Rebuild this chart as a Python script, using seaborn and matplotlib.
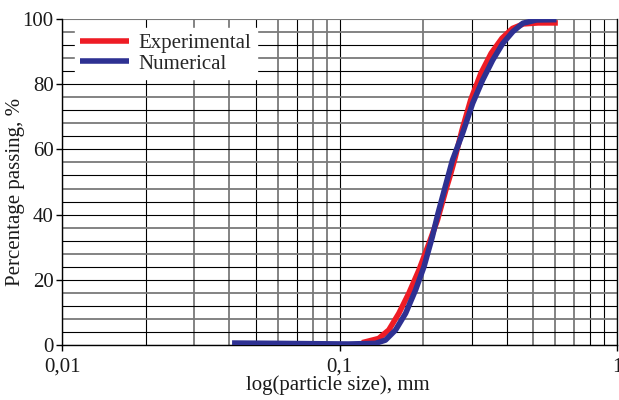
import numpy as np
import pandas as pd
import matplotlib
matplotlib.use("Agg")
import matplotlib.pyplot as plt
import seaborn as sns
from matplotlib.ticker import FixedLocator, NullFormatter

# Data
exp_size = [0.1205, 0.1384, 0.1505, 0.1636, 0.1778, 0.1933, 0.2101, 0.2253, 0.2415,
            0.2505, 0.2595, 0.2765, 0.2970, 0.3230, 0.3520, 0.3850, 0.4200, 0.4600,
            0.5200, 0.6120]
exp_pass = [0.7, 2.0, 4.6, 9.7, 15.9, 23.0, 31.2, 38.3, 47.5,
            52.0, 56.7, 66.0, 75.2, 83.3, 89.5, 94.1, 97.1, 98.5,
            98.8, 98.8]
num_size = [0.041, 0.06, 0.08, 0.1078, 0.1347, 0.1464, 0.1592, 0.173, 0.188, 0.2015,
            0.216, 0.2265, 0.2405, 0.2553, 0.2775, 0.3017, 0.328, 0.3564, 0.3874,
            0.421, 0.4578, 0.512, 0.605]
num_pass = [0.6, 0.5, 0.4, 0.3, 0.5, 1.5, 4.6, 9.7, 16.9, 24.0,
            33.2, 40.4, 48.6, 56.7, 64.9, 74.1, 81.3, 87.4, 92.5,
            96.1, 98.7, 99.7, 99.8]
x_ticks = [0.01, 0.1, 1]
x_ticklabels = ["0,01", "0,1", "1"]
y_ticks = [0, 20, 40, 60, 80, 100]

df = pd.concat([
    pd.DataFrame({"size": exp_size, "pass": exp_pass, "series": "Experimental"}),
    pd.DataFrame({"size": num_size, "pass": num_pass, "series": "Numerical"}),
])

sns.set_style("white")
plt.rcParams["font.family"] = ["Liberation Serif", "DejaVu Serif"]

fig = plt.figure(figsize=(6.19, 4.0), dpi=100)
ax = fig.add_axes([0.1002, 0.1375, 0.8966, 0.815])

sns.lineplot(data=df, x="size", y="pass", hue="series", sort=False,
             palette={"Experimental": "#ee1c25", "Numerical": "#2e3192"},
             linewidth=4.0, ax=ax, zorder=5)
for ln in ax.get_lines():
    ln.set_solid_joinstyle("round")
    ln.set_solid_capstyle("butt")

ax.set_xscale("log")
ax.set_xlim(0.01, 1)
ax.set_ylim(0, 100)

# grid
minor_x = [m * 10.0 ** e for e in (-2, -1) for m in range(2, 10)]
ax.xaxis.set_minor_locator(FixedLocator(minor_x))
ax.xaxis.set_minor_formatter(NullFormatter())
ax.set_xticks(x_ticks)
ax.set_xticklabels(x_ticklabels)
ax.set_yticks(y_ticks)
ax.yaxis.set_minor_locator(FixedLocator([v for v in range(0, 101, 4) if v % 20 != 0]))
ax.grid(True, which="both", axis="both", color="black", linewidth=0.8)

gray = "#7a7a7a"
xminor_gray = [False, True, True, False, True, False, True, True,
               True, False, False, True, True, True, False, False]
for t, g in zip(ax.xaxis.get_minor_ticks(), xminor_gray):
    if g:
        t.gridline.set_color(gray)
        t.gridline.set_linewidth(1.3)
for t in ax.xaxis.get_major_ticks():
    t.gridline.set_color("black")
for i, t in enumerate(ax.yaxis.get_minor_ticks()):
    if i % 2 == 1:
        t.gridline.set_color(gray)
        t.gridline.set_linewidth(1.3)
ax.yaxis.get_major_ticks()[-1].gridline.set_color(gray)

for s in ["left", "bottom", "right"]:
    ax.spines[s].set_visible(True)
    ax.spines[s].set_color("black")
    ax.spines[s].set_linewidth(1.0)
ax.spines["top"].set_visible(False)

ax.tick_params(axis="both", which="major", direction="out", length=4, width=1,
               color="black", labelsize=15, labelcolor="#1a1a1a", bottom=True, left=True)
ax.tick_params(axis="x", which="major", pad=5)
ax.tick_params(axis="y", which="major", pad=2)
ax.tick_params(axis="both", which="minor", length=0)

ax.set_xlabel("log(particle size), mm", fontsize=15, color="#1a1a1a")
ax.set_ylabel("Percentage passing, %", fontsize=15, color="#1a1a1a")
ax.xaxis.set_label_coords(0.497, -0.123, transform=ax.transAxes)
ax.xaxis.label.set_va("center")
ax.yaxis.set_label_coords(-0.083, 0.469, transform=ax.transAxes)
ax.yaxis.label.set_va("center")

leg = ax.legend(loc="upper left", bbox_to_anchor=(0.0234, 0.972), frameon=True,
                fontsize=15, handlelength=2.35, handletextpad=0.45, borderpad=0.25,
                borderaxespad=0.0, labelspacing=0.05, fancybox=False)
leg.get_frame().set_edgecolor("white")
leg.get_frame().set_facecolor("white")
leg.get_frame().set_alpha(1.0)
leg.set_zorder(10)
for line in leg.get_lines():
    line.set_linewidth(4)

fig.savefig("out.png", dpi=100)
